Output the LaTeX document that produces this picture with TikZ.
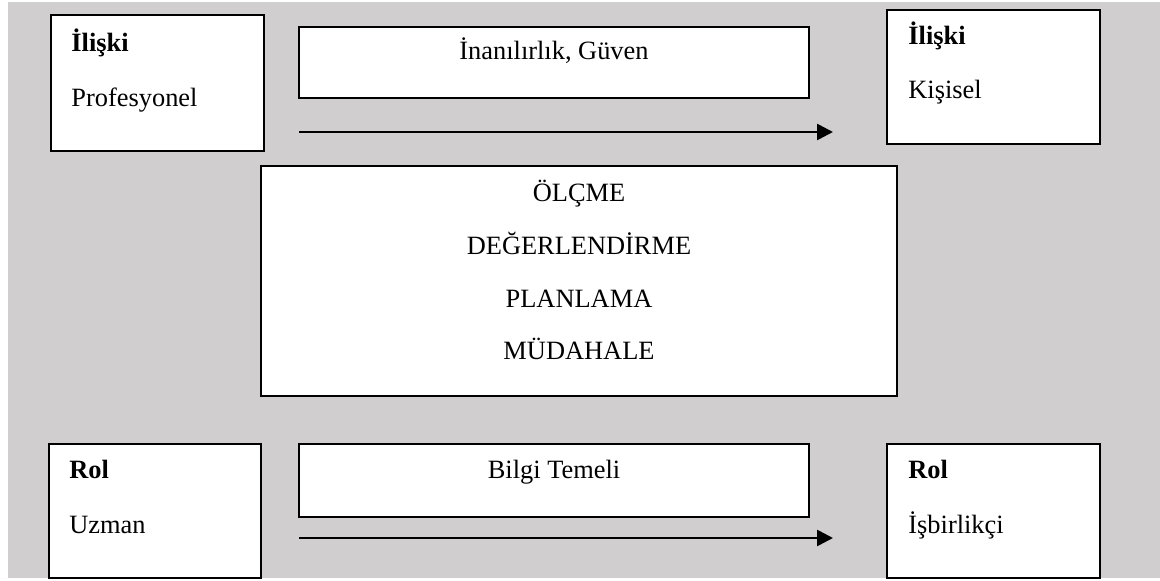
\documentclass[tikz,border=0pt]{standalone}
\usepackage{fontspec}
\setmainfont{Liberation Serif}
\usetikzlibrary{arrows.meta}
\definecolor{panelgray}{HTML}{D0CECE}
\begin{document}
\begin{tikzpicture}[x=0.5pt,y=-0.5pt,
  box/.style={draw=black, fill=white, line width=0.75pt, inner sep=0pt, outer sep=0pt},
  lbl/.style={inner sep=0pt, anchor=base west, font=\fontsize{13.2pt}{15pt}\selectfont},
  ctr/.style={inner sep=0pt, anchor=base, font=\fontsize{13.2pt}{15pt}\selectfont},
  flow/.style={line width=1.3pt, -{Triangle[length=8pt,width=8pt]}}]
  % page and grey panel
  \useasboundingbox (0,0) rectangle (1160,581);
  \fill[panelgray] (8,2) rectangle (1160,578);

  % top row
  \node[box, minimum width=106.5pt, minimum height=68pt] (relA) at (157.5,83) {};
  \node[box, minimum width=106.5pt, minimum height=67pt] (relB) at (993.5,77) {};
  \node[box, minimum width=255pt, minimum height=35.5pt] (trust) at (554,62.5) {};
  \node[lbl] (relAh) at (71,52) {\textbf{İlişki}};
  \node[lbl] (relAt) at (71,107) {Profesyonel};
  \node[lbl] (relBh) at (908,45) {\textbf{İlişki}};
  \node[lbl] (relBt) at (908,99) {Kişisel};
  \node[ctr] (trustt) at (554,60) {İnanılırlık, Güven};
  \coordinate (topS) at (299,132);
  \coordinate (topE) at (833,132);
  \draw[flow] (topS) -- (topE);

  % central process box
  \node[box, minimum width=318pt, minimum height=115pt] (proc) at (579,281) {};
  \node[ctr] (p1) at (579,202) {ÖLÇME};
  \node[ctr] (p2) at (579,255) {DEĞERLENDİRME};
  \node[ctr] (p3) at (579,307.5) {PLANLAMA};
  \node[ctr] (p4) at (579,360) {MÜDAHALE};

  % bottom row
  \node[box, minimum width=106pt, minimum height=67pt] (roleA) at (155,511) {};
  \node[box, minimum width=106.5pt, minimum height=67pt] (roleB) at (993.5,511) {};
  \node[box, minimum width=255pt, minimum height=36.5pt] (know) at (554,480.5) {};
  \node[lbl] (roleAh) at (69,479) {\textbf{Rol}};
  \node[lbl] (roleAt) at (69,533) {Uzman};
  \node[lbl] (roleBh) at (908,479) {\textbf{Rol}};
  \node[lbl] (roleBt) at (908,533) {İşbirlikçi};
  \node[ctr] (knowt) at (554,479) {Bilgi Temeli};
  \coordinate (botS) at (299,538);
  \coordinate (botE) at (833,538);
  \draw[flow] (botS) -- (botE);
\end{tikzpicture}
\end{document}
